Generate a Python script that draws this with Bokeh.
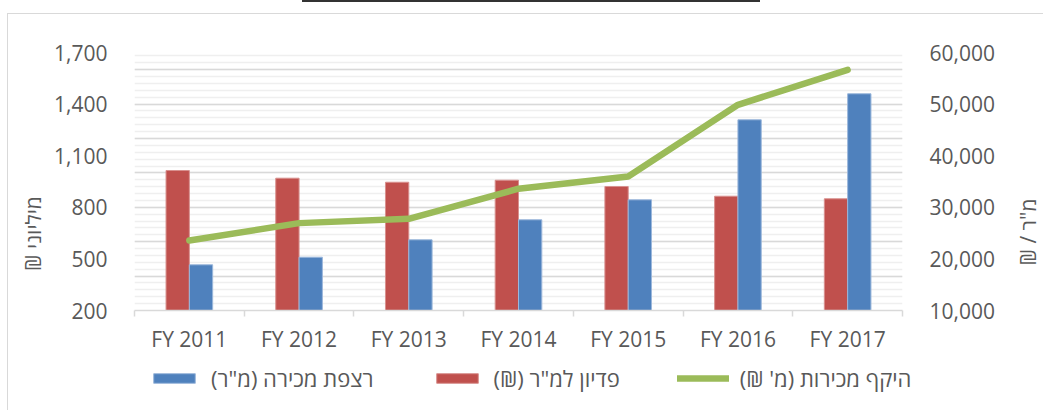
import numpy as np
from bokeh.plotting import figure
from bokeh.layouts import column, row
from bokeh.models import (Range1d, LinearAxis, FixedTicker, Legend, LegendItem, Label, Div,
                          NumeralTickFormatter, ColumnDataSource)
from bokeh.transform import dodge
from bokeh.embed import file_html
from bokeh.resources import INLINE

# ---- data ----
categories = ["FY 2011", "FY 2012", "FY 2013", "FY 2014", "FY 2015", "FY 2016", "FY 2017"]
sales_volume = [607, 708, 733, 908, 979, 1396, 1599]                # היקף מכירות (מ' ₪) - left axis
revenue_per_sqm = [37130, 35640, 34860, 35250, 34030, 32150, 31650]  # פדיון למ"ר (₪) - right axis
floor_area = [18860, 20330, 23700, 27580, 31450, 46960, 52000]       # רצפת מכירה (מ"ר) - right axis
left_ticks = [200, 500, 800, 1100, 1400, 1700]
right_ticks = [10000, 20000, 30000, 40000, 50000, 60000]

RLM = "\u200f"
lbl_area = RLM + "רצפת מכירה (מ\"ר)" + RLM
lbl_rev = RLM + "פדיון למ\"ר (₪)" + RLM
lbl_sales = RLM + "היקף מכירות (מ' ₪)" + RLM
left_title = RLM + "מיליוני ₪" + RLM
right_title = RLM + "מ\"ר / ₪" + RLM

FONT = "Open Sans"
TXT = "#595959"
GRID = "#d9d9d9"
RED = "#C0504D"
BLUE = "#4F81BD"
GREEN = "#9BBB59"

xs = np.arange(len(categories)) + 0.5
src = ColumnDataSource(dict(x=xs, sales=sales_volume, rev=revenue_per_sqm, area=floor_area))

H_MAIN = 346
STRIP = 40
p = figure(width=1035 - 2 * STRIP, height=H_MAIN, output_backend="svg", toolbar_location=None,
           x_range=Range1d(0, len(categories)), y_range=Range1d(left_ticks[0], left_ticks[-1]),
           min_border_left=86, min_border_right=101, min_border_top=38, min_border_bottom=50,
           y_axis_location=None, x_axis_location=None)
p.outline_line_color = None
p.background_fill_color = "white"
p.border_fill_color = "white"
p.extra_y_ranges = {"right": Range1d(right_ticks[0], right_ticks[-1])}

# left axis
minor_left = np.arange(left_ticks[0], left_ticks[-1] + 1, 60).tolist()
yax = LinearAxis(ticker=FixedTicker(ticks=left_ticks, minor_ticks=minor_left),
                 formatter=NumeralTickFormatter(format="0,0"))
yax.axis_line_color = None
yax.major_tick_line_color = None
yax.minor_tick_line_color = None
yax.major_label_standoff = 21
yax.major_label_text_font = FONT
yax.major_label_text_font_size = "21px"
yax.major_label_text_color = TXT
p.add_layout(yax, "left")

# right axis
rax = LinearAxis(y_range_name="right", ticker=FixedTicker(ticks=right_ticks),
                 formatter=NumeralTickFormatter(format="0,0"))
rax.axis_line_color = None
rax.major_tick_line_color = None
rax.minor_tick_line_color = None
rax.major_label_standoff = 21
rax.major_label_text_font = FONT
rax.major_label_text_font_size = "21px"
rax.major_label_text_color = TXT
p.add_layout(rax, "right")

# x axis
xax = LinearAxis(ticker=FixedTicker(ticks=xs.tolist(),
                                    minor_ticks=np.arange(len(categories) + 1).tolist()))
xax.major_label_overrides = {float(x): c for x, c in zip(xs, categories)}
xax.axis_line_color = GRID
xax.axis_line_width = 1.5
xax.major_tick_line_color = None
xax.minor_tick_line_color = GRID
xax.minor_tick_line_width = 1.5
xax.minor_tick_out = 6
xax.minor_tick_in = 0
xax.major_label_standoff = 8
xax.major_label_text_font = FONT
xax.major_label_text_font_size = "21px"
xax.major_label_text_color = TXT
p.add_layout(xax, "below")

p.xgrid.visible = False
p.ygrid.grid_line_color = GRID
p.ygrid.grid_line_width = 1.5
p.ygrid.minor_grid_line_color = "#efefef"
p.ygrid.minor_grid_line_width = 1.5

bw = 0.2125
bar_rev = dict(fill_color=RED, line_color="#d8908e", line_width=1)
bar_area = dict(fill_color=BLUE, line_color="#9bb7db", line_width=1)
line_sty = dict(line_color=GREEN, line_width=6.5, line_cap="round", line_join="round")

p.vbar(x=dodge("x", -bw / 2, range=p.x_range), top="rev", bottom=right_ticks[0], width=bw,
       source=src, y_range_name="right", **bar_rev)
p.vbar(x=dodge("x", bw / 2, range=p.x_range), top="area", bottom=right_ticks[0], width=bw,
       source=src, y_range_name="right", **bar_area)
p.line(x="x", y="sales", source=src, **line_sty)


def title_strip(text, x_pos, y_pos):
    f = figure(width=STRIP, height=H_MAIN, output_backend="svg", toolbar_location=None,
               x_range=Range1d(0, 1), y_range=Range1d(0, 1),
               min_border_left=0, min_border_right=0, min_border_top=38, min_border_bottom=50,
               x_axis_location=None, y_axis_location=None)
    f.outline_line_color = None
    f.grid.visible = False
    f.border_fill_color = "white"
    f.add_layout(Label(x=x_pos, y=y_pos, text=text, angle=np.pi / 2, text_align="center",
                       text_baseline="middle", text_font=FONT, text_font_size="21px",
                       text_color=TXT))
    return f


left_fig = title_strip(left_title, 0.6, 0.298)
right_fig = title_strip(right_title, 0.6, 0.304)

# legend strip: renderers only carry the glyph styles for the legend (one undrawable NaN row)
nan_src = ColumnDataSource(dict(x=[np.nan], sales=[np.nan], rev=[np.nan], area=[np.nan]))
lg = figure(width=1035, height=50, output_backend="svg", toolbar_location=None,
            x_range=Range1d(0, 1), y_range=Range1d(0, 1),
            min_border_left=0, min_border_right=0, min_border_top=0, min_border_bottom=0,
            x_axis_location=None, y_axis_location=None)
lg.outline_line_color = None
lg.grid.visible = False
lg.border_fill_color = "white"
lg_area = lg.vbar(x="x", top="area", bottom=0, width=bw, source=nan_src, **bar_area)
lg_rev = lg.vbar(x="x", top="rev", bottom=0, width=bw, source=nan_src, **bar_rev)
lg_line = lg.line(x="x", y="sales", source=nan_src, **line_sty)

legend = Legend(items=[LegendItem(label=lbl_area, renderers=[lg_area]),
                       LegendItem(label=lbl_rev, renderers=[lg_rev]),
                       LegendItem(label=lbl_sales, renderers=[lg_line])],
                orientation="horizontal", location=(140, 17))
legend.glyph_width = 52
legend.glyph_height = 12
legend.label_standoff = 11
legend.spacing = 57
legend.padding = 0
legend.margin = 0
legend.border_line_color = None
legend.background_fill_alpha = 0
legend.label_text_font = FONT
legend.label_text_font_size = "22px"
legend.label_text_color = TXT
lg.add_layout(legend, "center")

chart = column(row(left_fig, p, right_fig, spacing=0), lg, spacing=0, margin=(12, 0, 0, 8),
               styles={"outline": "1.5px solid #d9d9d9"})
top_edge = Div(text="", width=458, height=2, margin=(0, 0, 0, 302),
               styles={"background-color": "#333333"})

layout = column(top_edge, chart, spacing=0)
open("out.html", "w").write(file_html(layout, INLINE))
